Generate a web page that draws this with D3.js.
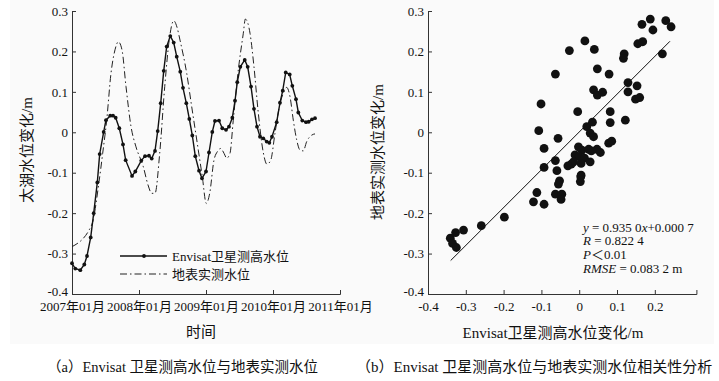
<!DOCTYPE html>
<html>
<head>
<meta charset="utf-8">
<script src="https://cdn.jsdelivr.net/npm/d3@7"></script>
<style>
  body { margin: 0; background: #fff; }
  svg { display: block; }
  text { font-family: "Liberation Serif", "Times New Roman", "DejaVu Serif", serif, "Noto Sans CJK SC"; fill: #111; }
</style>
</head>
<body>
<div id="chart"></div>
<script>
// chart size
const WIDTH = 719;
const HEIGHT = 381;
const FONT = '"Liberation Serif", "Times New Roman", "DejaVu Serif", serif, "Noto Sans CJK SC"';

// (a) Envisat altimetry water level, time in decimal years
const envT = [2007.00, 2007.049, 2007.124, 2007.184, 2007.224, 2007.279, 2007.324, 2007.378, 2007.413, 2007.473,
  2007.507, 2007.571, 2007.612, 2007.652, 2007.706, 2007.761, 2007.801, 2007.896, 2007.945, 2008.034,
  2008.090, 2008.149, 2008.190, 2008.239, 2008.279, 2008.324, 2008.369, 2008.413, 2008.467, 2008.518,
  2008.563, 2008.616, 2008.657, 2008.706, 2008.751, 2008.796, 2008.840, 2008.896, 2008.940, 2009.000,
  2009.045, 2009.094, 2009.134, 2009.194, 2009.243, 2009.299, 2009.343, 2009.393, 2009.433, 2009.467,
  2009.512, 2009.578, 2009.622, 2009.672, 2009.716, 2009.761, 2009.806, 2009.855, 2009.906, 2009.945,
  2009.985, 2010.055, 2010.104, 2010.145, 2010.190, 2010.249, 2010.288, 2010.343, 2010.378, 2010.437,
  2010.493, 2010.533, 2010.582, 2010.627];
const envV = [-0.324, -0.337, -0.341, -0.327, -0.306, -0.260, -0.200, -0.124, -0.054, 0.001,
  0.030, 0.041, 0.041, 0.036, 0.010, -0.030, -0.069, -0.108, -0.097, -0.070,
  -0.059, -0.058, -0.065, -0.046, 0.003, 0.072, 0.152, 0.212, 0.238, 0.222,
  0.187, 0.150, 0.110, 0.072, 0.033, -0.008, -0.059, -0.095, -0.114, -0.097,
  -0.050, 0.001, 0.028, 0.029, 0.010, 0.006, 0.014, 0.036, 0.078, 0.124,
  0.162, 0.179, 0.162, 0.113, 0.058, 0.014, -0.011, -0.015, -0.023, -0.026,
  -0.011, 0.025, 0.073, 0.103, 0.148, 0.143, 0.115, 0.082, 0.049, 0.029,
  0.025, 0.026, 0.032, 0.035];

// (a) gauge (ground) water level
const gndT = [2007.000, 2007.294, 2007.407, 2007.458, 2007.518, 2007.582, 2007.642, 2007.691, 2007.746, 2007.806,
  2007.881, 2007.955, 2008.064, 2008.134, 2008.190, 2008.239, 2008.309, 2008.384, 2008.458, 2008.518,
  2008.567, 2008.612, 2008.712, 2008.787, 2008.885, 2008.945, 2009.004, 2009.055, 2009.119, 2009.169,
  2009.219, 2009.269, 2009.309, 2009.358, 2009.407, 2009.482, 2009.557, 2009.587, 2009.657, 2009.716,
  2009.781, 2009.855, 2009.910, 2009.966, 2010.030, 2010.094, 2010.154, 2010.204, 2010.254, 2010.303,
  2010.354, 2010.403, 2010.452, 2010.503, 2010.578, 2010.627];
const gndV = [-0.283, -0.229, -0.118, -0.052, 0.030, 0.146, 0.204, 0.224, 0.204, 0.113,
  0.014, -0.036, -0.085, -0.130, -0.151, -0.151, -0.052, 0.113, 0.237, 0.276,
  0.260, 0.228, 0.146, 0.063, -0.044, -0.110, -0.176, -0.151, -0.069, -0.048,
  -0.040, -0.052, -0.064, -0.052, 0.030, 0.154, 0.245, 0.280, 0.245, 0.162,
  0.047, -0.050, -0.079, -0.069, -0.002, 0.063, 0.097, 0.111, 0.088, 0.030,
  -0.019, -0.044, -0.046, -0.023, -0.007, -0.004];

const yearTicks = [2007, 2008, 2009, 2010, 2011];
const valueTicks = [-0.4, -0.3, -0.2, -0.1, 0, 0.1, 0.2, 0.3];
const scatterXTicks = [-0.4, -0.3, -0.2, -0.1, 0, 0.1, 0.2];

// (b) scatter: Envisat (x) vs gauge (y)
const satX = [-0.341, -0.335, -0.325, -0.327, -0.306, -0.259, -0.198, -0.121, -0.112, -0.093,
  -0.093, -0.107, -0.093, -0.101, -0.063, -0.063, -0.056, -0.059, -0.052, -0.055,
  -0.063, -0.046, -0.048, -0.026, -0.004, 0.015, 0.020, 0.035, 0.040, 0.038,
  0.048, 0.048, 0.062, 0.079, 0.082, 0.082, 0.078, 0.086, 0.119, 0.117,
  0.122, 0.129, 0.129, 0.153, 0.149, 0.160, 0.155, 0.168, 0.166, 0.188,
  0.195, 0.229, 0.243, 0.220, 0.029, 0.038, -0.002, 0.007, 0.025, 0.047,
  0.056, -0.011, 0.000, 0.014, -0.015, -0.021, 0.005, 0.029, 0.005, 0.003,
  0.004, -0.030, 0.032];
const gaugeY = [-0.262, -0.275, -0.285, -0.248, -0.242, -0.231, -0.210, -0.172, -0.149, -0.178,
  -0.087, 0.004, -0.040, 0.070, 0.144, -0.070, -0.015, -0.095, -0.120, -0.128,
  -0.153, -0.153, -0.166, 0.202, 0.051, 0.226, 0.014, 0.025, 0.205, 0.105,
  0.157, 0.092, 0.099, 0.144, 0.051, 0.024, -0.027, -0.022, 0.194, 0.183,
  0.030, 0.123, 0.100, 0.115, 0.082, 0.086, 0.219, 0.224, 0.267, 0.280,
  0.253, 0.276, 0.261, 0.194, -0.002, -0.011, -0.036, -0.044, -0.042, -0.042,
  -0.050, -0.056, -0.060, -0.064, -0.073, -0.079, -0.077, -0.073, -0.106, -0.122,
  -0.110, -0.083, -0.046];

// fit given in the figure
const slope = 0.935, intercept = 0.0007;
const fitRange = [-0.34, 0.24];

const svg = d3.select("#chart").append("svg")
  .attr("width", WIDTH)
  .attr("height", HEIGHT)
  .style("font-family", FONT);

svg.append("rect").attr("width", WIDTH).attr("height", HEIGHT).attr("fill", "#fff");
svg.append("rect").attr("x", 10).attr("y", 0).attr("width", 704).attr("height", 344).attr("fill", "#fafafa");

//scales
const xTime = d3.scaleLinear().domain([2007, 2011]).range([72, 340]);
const yVal = d3.scaleLinear().domain([-0.4, 0.3]).range([294, 11]);
const xSat = d3.scaleLinear().domain([-0.4, 0.31]).range([428, 696.4]);

function styleAxis(g) {
  g.attr("font-family", null).attr("font-size", null);
  g.selectAll("path, line").attr("stroke", "#333").attr("stroke-width", 1);
  g.selectAll("text").attr("font-size", 13).attr("fill", "#111")
    .style("font-family", FONT);
}

const fmt = d => d3.format(".1f")(d).replace("−", "-").replace("-0.0", "0").replace(/^0\.0$/, "0");

// lowest y label sits a little higher so it clears the time labels
function liftBottom(g) {
  g.selectAll(".tick text").filter(d => d === -0.4).attr("dy", "0.1em");
}

// ---- panel (a) ----
svg.append("g").attr("transform", "translate(0,294)")
  .call(d3.axisBottom(xTime).tickValues(yearTicks).tickFormat(d => d + "年01月")
    .tickSizeInner(-4).tickSizeOuter(-4).tickPadding(8))
  .call(styleAxis);

svg.append("g").attr("transform", "translate(72,0)")
  .call(d3.axisLeft(yVal).tickValues(valueTicks).tickFormat(fmt)
    .tickSizeInner(-4).tickSizeOuter(0).tickPadding(4))
  .call(styleAxis)
  .call(liftBottom);

const gndLine = d3.line().x(d => xTime(d[0])).y(d => yVal(d[1])).curve(d3.curveMonotoneX);
svg.append("path")
  .attr("d", gndLine(d3.zip(gndT, gndV)))
  .attr("fill", "none").attr("stroke", "#222").attr("stroke-width", 1)
  .attr("stroke-dasharray", "7,3,1.5,3");

const envData = d3.zip(envT, envV);
const envLine = d3.line().x(d => xTime(d[0])).y(d => yVal(d[1]));
svg.append("path")
  .attr("d", envLine(envData))
  .attr("fill", "none").attr("stroke", "#111").attr("stroke-width", 1.4);
svg.append("g").selectAll("circle")
  .data(envData)
  .join("circle")
  .attr("cx", d => xTime(d[0]))
  .attr("cy", d => yVal(d[1]))
  .attr("r", 1.9)
  .attr("fill", "#111");

// legend
const legend = svg.append("g");
legend.append("line").attr("x1", 120).attr("x2", 167).attr("y1", 256).attr("y2", 256)
  .attr("stroke", "#111").attr("stroke-width", 1.4);
legend.append("circle").attr("cx", 144).attr("cy", 256).attr("r", 1.9).attr("fill", "#111");
legend.append("text").attr("x", 172).attr("y", 256).attr("dy", "0.35em").attr("font-size", 13)
  .text("Envisat卫星测高水位");
legend.append("line").attr("x1", 120).attr("x2", 167).attr("y1", 274).attr("y2", 274)
  .attr("stroke", "#222").attr("stroke-width", 1).attr("stroke-dasharray", "7,3,1.5,3");
legend.append("text").attr("x", 172).attr("y", 274).attr("dy", "0.35em").attr("font-size", 13)
  .text("地表实测水位");

svg.append("text").attr("x", 201).attr("y", 332).attr("dy", "0.35em")
  .attr("text-anchor", "middle").attr("font-size", 15).text("时间");
svg.append("text").attr("transform", "translate(27,150) rotate(-90)").attr("dy", "0.35em")
  .attr("text-anchor", "middle").attr("font-size", 15).text("太湖水位变化/m");

// ---- panel (b) ----
svg.append("g").attr("transform", "translate(0,294)")
  .call(d3.axisBottom(xSat).tickValues(scatterXTicks).tickFormat(fmt)
    .tickSizeInner(-4).tickSizeOuter(-4).tickPadding(8))
  .call(styleAxis);

svg.append("g").attr("transform", "translate(428,0)")
  .call(d3.axisLeft(yVal).tickValues(valueTicks).tickFormat(fmt)
    .tickSizeInner(-4).tickSizeOuter(0).tickPadding(4))
  .call(styleAxis)
  .call(liftBottom);

svg.append("g").selectAll("circle")
  .data(d3.zip(satX, gaugeY))
  .join("circle")
  .attr("cx", d => xSat(d[0]))
  .attr("cy", d => yVal(d[1]))
  .attr("r", 4.4)
  .attr("fill", "#111");

svg.append("line")
  .attr("x1", xSat(fitRange[0])).attr("y1", yVal(slope * fitRange[0] + intercept))
  .attr("x2", xSat(fitRange[1])).attr("y2", yVal(slope * fitRange[1] + intercept))
  .attr("stroke", "#111").attr("stroke-width", 1);

const stats = svg.append("g").attr("font-size", 13);
const s1 = stats.append("text").attr("x", 583).attr("y", 227).attr("dy", "0.35em");
s1.append("tspan").attr("font-style", "italic").text("y");
s1.append("tspan").text(" = 0.935 0");
s1.append("tspan").attr("font-style", "italic").text("x");
s1.append("tspan").text("+0.000 7");
const s2 = stats.append("text").attr("x", 583).attr("y", 240.5).attr("dy", "0.35em");
s2.append("tspan").attr("font-style", "italic").text("R");
s2.append("tspan").text(" = 0.822 4");
const s3 = stats.append("text").attr("x", 583).attr("y", 254.5).attr("dy", "0.35em");
s3.append("tspan").attr("font-style", "italic").text("P");
s3.append("tspan").text("＜0.01");
const s4 = stats.append("text").attr("x", 583).attr("y", 268.5).attr("dy", "0.35em");
s4.append("tspan").attr("font-style", "italic").text("RMSE");
s4.append("tspan").text(" = 0.083 2 m");

svg.append("text").attr("x", 553).attr("y", 333).attr("dy", "0.35em")
  .attr("text-anchor", "middle").attr("font-size", 15).text("Envisat卫星测高水位变化/m");
svg.append("text").attr("transform", "translate(378,152) rotate(-90)").attr("dy", "0.35em")
  .attr("text-anchor", "middle").attr("font-size", 15).text("地表实测水位变化/m");

// captions
svg.append("text").attr("x", 47).attr("y", 367).attr("dy", "0.35em").attr("font-size", 14.5)
  .attr("fill", "#1c1c3a").text("（a）Envisat 卫星测高水位与地表实测水位");
svg.append("text").attr("x", 356).attr("y", 367).attr("dy", "0.35em").attr("font-size", 15)
  .attr("fill", "#1c1c3a").text("（b）Envisat 卫星测高水位与地表实测水位相关性分析");
</script>
</body>
</html>
